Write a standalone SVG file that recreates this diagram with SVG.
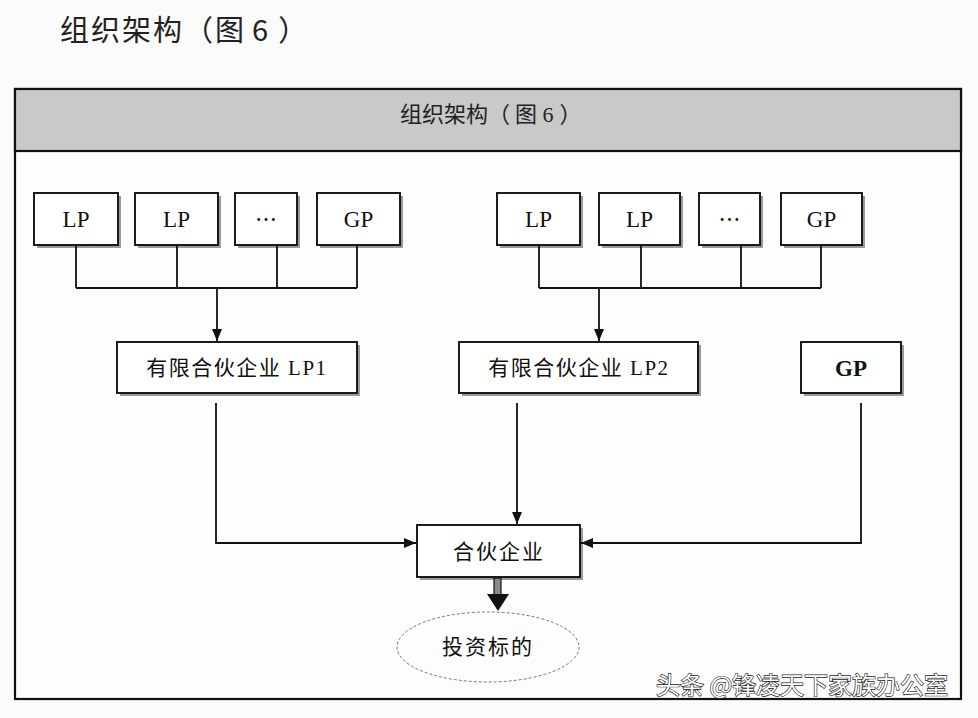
<svg xmlns="http://www.w3.org/2000/svg" width="978" height="718" viewBox="0 0 978 718">
<defs>
<style>
.box{fill:#fff;stroke:#111;stroke-width:1.9}
.sh{fill:#9a9a9a}
.t{font-family:"Liberation Serif","Noto Sans CJK SC",serif;font-size:21px;fill:#111;text-anchor:middle}
.lp{font-size:23px}
.c{fill:none;stroke:#111;stroke-width:1.8}
</style>
<marker id="ah" viewBox="0 0 12 10" refX="12" refY="5" markerWidth="12" markerHeight="10" orient="auto" markerUnits="userSpaceOnUse"><path d="M0,0 L12,5 L0,10 z" fill="#111"/></marker>
</defs>
<rect width="978" height="718" fill="#fbfbfb"/>
<text x="60" y="41" font-family="'Noto Sans CJK SC',sans-serif" font-size="29" fill="#222" letter-spacing="2">组织架构（图<tspan dx="6">6</tspan><tspan dx="8">）</tspan></text>

<g id="frame">
<rect x="15" y="89" width="946" height="610" fill="#fdfdfd" stroke="#111" stroke-width="2.2"/>
<rect x="15" y="89" width="946" height="62" fill="#c9c9c9" stroke="#111" stroke-width="2.2"/>
<text x="400" y="122" font-family="'Liberation Serif','Noto Sans CJK SC',serif" font-size="22" fill="#222">组织架构<tspan>（</tspan><tspan dx="5">图</tspan> 6<tspan dx="6">）</tspan></text>
</g>

<g id="lp-a1"><rect class="sh" x="37" y="196" width="84" height="52"/><rect class="box" x="34" y="193" width="84" height="52"/><text class="t lp" x="76" y="227">LP</text></g>
<g id="lp-a2"><rect class="sh" x="138" y="196" width="83" height="52"/><rect class="box" x="135" y="193" width="83" height="52"/><text class="t lp" x="176.5" y="227">LP</text></g>
<g id="etc-a"><rect class="sh" x="238" y="196" width="62" height="52"/><rect class="box" x="235" y="193" width="62" height="52"/><text class="t" x="266" y="227" style="font-family:'Noto Sans CJK SC',sans-serif;font-size:22px">…</text></g>
<g id="gp-a"><rect class="sh" x="320" y="196" width="83" height="52"/><rect class="box" x="317" y="193" width="83" height="52"/><text class="t lp" x="358.5" y="227">GP</text></g>

<g id="lp-b1"><rect class="sh" x="500" y="196" width="83" height="52"/><rect class="box" x="497" y="193" width="83" height="52"/><text class="t lp" x="538.5" y="227">LP</text></g>
<g id="lp-b2"><rect class="sh" x="602" y="196" width="81" height="52"/><rect class="box" x="599" y="193" width="81" height="52"/><text class="t lp" x="639.5" y="227">LP</text></g>
<g id="etc-b"><rect class="sh" x="702" y="196" width="61" height="52"/><rect class="box" x="699" y="193" width="61" height="52"/><text class="t" x="729.5" y="227" style="font-family:'Noto Sans CJK SC',sans-serif;font-size:22px">…</text></g>
<g id="gp-b"><rect class="sh" x="784" y="196" width="81" height="52"/><rect class="box" x="781" y="193" width="81" height="52"/><text class="t lp" x="821.5" y="227">GP</text></g>

<g id="lp1"><rect class="sh" x="120" y="345" width="240" height="51"/><rect class="box" x="117" y="342" width="240" height="51"/><text class="t" x="237" y="375" letter-spacing="1.5">有限合伙企业 LP1</text></g>
<g id="lp2"><rect class="sh" x="462" y="345" width="239" height="51"/><rect class="box" x="459" y="342" width="239" height="51"/><text class="t" x="579" y="375" letter-spacing="1.5">有限合伙企业 LP2</text></g>
<g id="gp"><rect class="sh" x="804" y="345" width="100" height="51"/><rect class="box" x="801" y="342" width="100" height="51"/><text class="t lp" x="851" y="376" font-weight="bold">GP</text></g>

<g id="partnership"><rect class="sh" x="420" y="528" width="163" height="52"/><rect class="box" x="417" y="525" width="163" height="52"/><text class="t" x="499" y="559" letter-spacing="2">合伙企业</text></g>

<g id="target"><ellipse cx="488" cy="647" rx="91" ry="35" fill="#fdfdfd" stroke="#777" stroke-width="1" stroke-dasharray="3 2"/><text class="t" x="488" y="654" letter-spacing="2">投资标的</text></g>

<g id="connectors">
<path class="c" d="M76,245 V288 M177,245 V288 M277,245 V288 M357,245 V288 M76,288 H357"/>
<path class="c" d="M217,288 V341" marker-end="url(#ah)"/>
<path class="c" d="M539,245 V288 M641,245 V288 M741,245 V288 M821,245 V288 M539,288 H821"/>
<path class="c" d="M599,288 V341" marker-end="url(#ah)"/>
<path class="c" d="M216,403 V543 H416" marker-end="url(#ah)"/>
<path class="c" d="M517,403 V524" marker-end="url(#ah)"/>
<path class="c" d="M861,403 V543 H581" marker-end="url(#ah)"/>
<rect x="494" y="578" width="7" height="17" fill="#8a8a8a" stroke="#111" stroke-width="1.2"/>
<path d="M487,594 L509,594 L498,611 z" fill="#111"/>
</g>

<text x="656" y="694" font-family="'Noto Sans CJK SC',sans-serif" font-size="24" fill="#fff" stroke="#222" stroke-width="1.3" paint-order="stroke">头条 @锋凌天下家族办公室</text>
</svg>
